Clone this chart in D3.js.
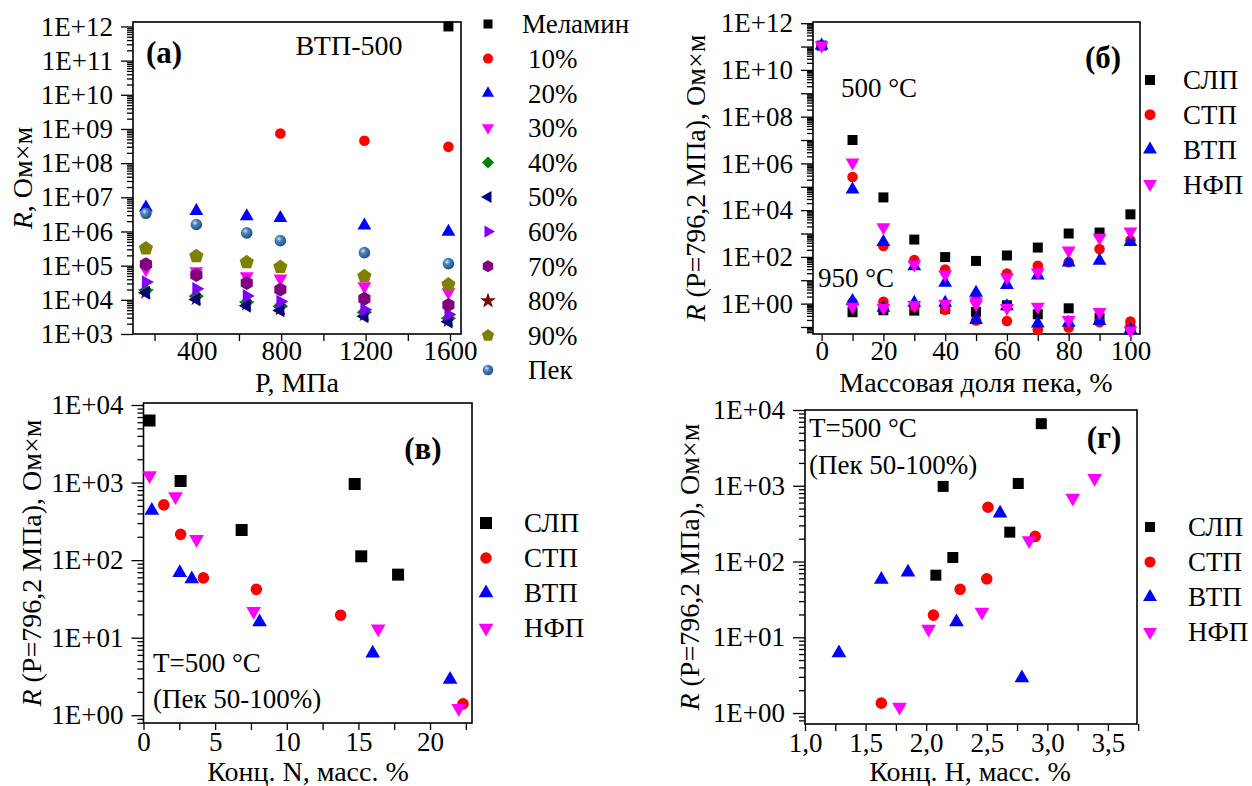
<!DOCTYPE html>
<html><head><meta charset="utf-8">
<script src="https://cdn.jsdelivr.net/npm/d3@7"></script>
<style>
body{margin:0;background:#fff}
svg text{font-family:"Liberation Serif","Times New Roman",serif;fill:#000}
</style>
</head><body>
<svg id="c" width="1252" height="786"></svg>
<script>
// ---------- DATA ----------
// Panel (a): R vs P, BTP-500
const pressureP = [159.2, 398.1, 636.9, 796.2, 1194.3, 1592.4];
const aMelamine = [null, null, null, null, null, 1.0e12];
const a10 = [null, null, null, 7.4e8, 4.5e8, 3.0e8];
const a20 = [5.0e6, 4.0e6, 2.8e6, 2.5e6, 1.5e6, 9.8e5];
const a30 = [7.8e4, 6.9e4, 4.9e4, 4.2e4, 2.5e4, 1.66e4];
const a40 = [1.9e4, 1.3e4, 8.5e3, 6.7e3, 4.4e3, 2.9e3];
const a50 = [1.6e4, 1.03e4, 6.7e3, 4.9e3, 3.3e3, 2.3e3];
const a60 = [3.3e4, 2.1e4, 1.3e4, 8.9e3, 5.1e3, 3.7e3];
const a70 = [1.1e5, 5.3e4, 3.1e4, 2.0e4, 1.07e4, 7.1e3];
const a80 = [1.7e4, 1.1e4, 7.5e3, 5.5e3, 3.7e3, 2.5e3];
const a90 = [3.2e5, 1.9e5, 1.26e5, 9.1e4, 4.9e4, 2.8e4];
const aPek = [3.4e6, 1.6e6, 9.1e5, 5.4e5, 2.4e5, 1.15e5];
const aLegend = ["Меламин", "10%", "20%", "30%", "40%", "50%", "60%", "70%", "80%", "90%", "Пек"];
const aXTicks = [200, 400, 600, 800, 1000, 1200, 1400, 1600];
const aXLabels = [400, 800, 1200, 1600];

// Panel (б): R vs pitch fraction at 500 and 950 °C
const pitchFrac = [0, 10, 20, 30, 40, 50, 60, 70, 80, 90, 100];
const b500SLP = [1.1e11, 1.0e7, 3.5e4, 550, 98, 67, 115, 250, 1000, 1100, 6600];
const b500STP = [1.1e11, 2.6e5, 290, 73, 29, 1.4, 19.5, 42, 59, 215, 515];
const b500VTP = [1.1e11, 7.6e4, 430, 40, 7.8, 2.9, 6.3, 15.9, 57, 69, 435];
const b500NFP = [1.1e11, 1.1e6, 1870, 47, 17.6, 1.23, 13, 22, 186, 660, 1230];
const b950SLP = [null, 0.43, 0.52, 0.5, 0.6, 0.44, 0.85, 0.35, 0.63, 0.24, 0.08];
const b950STP = [null, 1.15, 1.2, 0.75, 0.55, 0.19, 0.18, 0.077, 0.095, 0.16, 0.17];
const b950VTP = [null, 1.3, 0.66, 1.1, 1.1, 0.2, 0.77, 0.14, 0.15, 0.18, 0.076];
const b950NFP = [null, 0.73, 0.66, 0.88, 0.98, 0.95, 0.65, 0.74, 0.2, 0.44, 0.07];
const seriesNames = ["СЛП", "СТП", "ВТП", "НФП"];

// Panel (в): R vs N content
const vN_SLP = [0.42, 2.59, 6.85, 14.74, 15.2, 17.77];
const vR_SLP = [6300, 1050, 245, 960, 112, 65];
const vN_STP = [1.42, 2.59, 4.18, 7.88, 13.76, 22.3];
const vR_STP = [515, 215, 59, 42, 19.5, 1.4];
const vN_VTP = [0.58, 2.53, 3.37, 8.1, 16.0, 21.4];
const vR_VTP = [435, 69, 57, 15.9, 6.3, 2.9];
const vN_NFP = [0.42, 2.23, 3.70, 7.69, 16.38, 22.0];
const vR_NFP = [1230, 660, 186, 22, 13, 1.23];

// Panel (г): R vs H content
const gH_SLP = [2.95, 2.14, 2.76, 2.69, 2.22, 2.08];
const gR_SLP = [6600, 980, 1070, 244, 113, 66];
const gH_STP = [2.51, 2.90, 2.50, 2.28, 2.06, 1.63];
const gR_STP = [520, 215, 59, 43, 19.6, 1.35];
const gH_VTP = [2.61, 1.63, 1.85, 2.25, 1.28, 2.79];
const gR_VTP = [435, 58, 72, 15.9, 6.2, 2.9];
const gH_NFP = [3.39, 3.21, 2.85, 2.46, 2.02, 1.78];
const gR_NFP = [1260, 690, 190, 21.5, 12.9, 1.2];

// ---------- DRAWING ----------
const SERIF = '"Liberation Serif", "Times New Roman", serif';
const svg = d3.select("#c");
const defs = svg.append("defs");
const grad = defs.append("radialGradient").attr("id", "sph").attr("cx", "38%").attr("cy", "35%").attr("r", "65%");
grad.append("stop").attr("offset", "0%").attr("stop-color", "#d8e8f7");
grad.append("stop").attr("offset", "35%").attr("stop-color", "#4f86c0");
grad.append("stop").attr("offset", "100%").attr("stop-color", "#1d4f86");

function poly(pts) { return "M" + pts.map(p => p[0].toFixed(2) + "," + p[1].toFixed(2)).join("L") + "Z"; }
function ngon(n, r, start) {
  const a = [];
  for (let i = 0; i < n; i++) { const t = start + i * 2 * Math.PI / n; a.push([r * Math.cos(t), r * Math.sin(t)]); }
  return poly(a);
}
function shape(type, s) {
  const k = 0.866;
  switch (type) {
    case "square": return poly([[-s, -s], [s, -s], [s, s], [-s, s]]);
    case "circle": case "sphere": { const p = d3.path(); p.arc(0, 0, s, 0, 2 * Math.PI); return p.toString(); }
    case "up": return poly([[0, -s], [s * k, s / 2], [-s * k, s / 2]]);
    case "down": return poly([[0, s], [s * k, -s / 2], [-s * k, -s / 2]]);
    case "left": return poly([[-s, 0], [s / 2, -s * k], [s / 2, s * k]]);
    case "right": return poly([[s, 0], [-s / 2, -s * k], [-s / 2, s * k]]);
    case "diamond": return poly([[0, -s], [s, 0], [0, s], [-s, 0]]);
    case "pentagon": return ngon(5, s, -Math.PI / 2);
    case "hexagon": return ngon(6, s, -Math.PI / 2);
    case "star": return d3.symbol(d3.symbolStar, s * s * 1.6)();
  }
}
function fillOf(st) { return st.type === "sphere" ? "url(#sph)" : st.color; }

const fmtExp = v => { const e = Math.round(Math.log10(v)); return "1E" + (e < 0 ? "-" : "+") + String(Math.abs(e)).padStart(2, "0"); };

function txt(sel, size) {
  return sel.style("font-family", SERIF).style("fill", "#000").attr("font-size", size);
}

function panel(cfg) {
  const g = svg.append("g");
  const x = d3.scaleLinear().domain(cfg.xDomain).range([cfg.left, cfg.right]);
  const y = d3.scaleLog().domain(cfg.yDomain).range([cfg.bottom, cfg.top]);
  // y axis
  const e0 = Math.ceil(Math.log10(cfg.yDomain[0]) - 1e-9), e1 = Math.floor(Math.log10(cfg.yDomain[1]) + 1e-9);
  const majors = [], minors = [];
  for (let e = e0 - 1; e <= e1; e++) {
    const b = Math.pow(10, e);
    if (e >= e0) majors.push(b);
    for (let m = 2; m <= 9; m++) { const v = m * b; if (v >= cfg.yDomain[0] && v <= cfg.yDomain[1]) minors.push(v); }
  }
  const yMin = g.append("g").attr("transform", `translate(${cfg.left},0)`)
    .call(d3.axisLeft(y).tickValues(minors).tickSize(6).tickFormat(""));
  const yMaj = g.append("g").attr("transform", `translate(${cfg.left},0)`)
    .call(d3.axisLeft(y).tickValues(majors).tickSize(12).tickPadding(8)
      .tickFormat(v => cfg.yLabelEvery2 && (Math.round(Math.log10(v)) % 2 !== 0) ? "" : fmtExp(v)));
  // x axis
  const xAx = g.append("g").attr("transform", `translate(0,${cfg.bottom})`)
    .call(d3.axisBottom(x).tickValues(cfg.xTicks).tickSize(7).tickPadding(cfg.xPad)
      .tickFormat(v => cfg.xLabels.some(l => Math.abs(l - v) < 1e-9) ? cfg.xFmt(v) : ""));
  [yMin, yMaj, xAx].forEach(a => {
    a.select(".domain").remove();
    a.attr("font-family", null).attr("font-size", null);
    a.selectAll("line").attr("stroke", "#000").attr("stroke-width", 1.3);
    txt(a.selectAll("text"), 27);
  });
  // frame
  g.append("rect").attr("x", cfg.left).attr("y", cfg.top)
    .attr("width", cfg.right - cfg.left).attr("height", cfg.bottom - cfg.top)
    .attr("fill", "none").attr("stroke", "#000").attr("stroke-width", 1.6);
  // points
  const clip = "clip" + cfg.id;
  defs.append("clipPath").attr("id", clip).append("rect")
    .attr("x", cfg.left - 8).attr("y", cfg.top - 8).attr("width", cfg.right - cfg.left + 16).attr("height", cfg.bottom - cfg.top + 16);
  const pg = g.append("g").attr("clip-path", `url(#${clip})`);
  cfg.series.forEach(st => {
    const pts = st.xs.map((xv, i) => [xv, st.ys[i]]).filter(p => p[1] != null);
    pg.selectAll(null).data(pts).enter().append("path")
      .attr("d", shape(st.type, st.size))
      .attr("transform", d => `translate(${x(d[0])},${y(d[1])})`)
      .attr("fill", fillOf(st)).attr("stroke", "none");
  });
  // legend
  cfg.legend.items.forEach((it, i) => {
    const yy = cfg.legend.y0 + i * cfg.legend.dy;
    g.append("path").attr("d", shape(it.type, it.lsize))
      .attr("transform", `translate(${cfg.legend.mx},${yy})`).attr("fill", fillOf(it));
    txt(g.append("text").attr("x", it.tx || cfg.legend.tx).attr("y", yy).attr("dy", "0.35em"), 27).text(it.name);
  });
  // axis titles
  const yl = txt(g.append("text").attr("transform", `translate(${cfg.yTitle.x},${cfg.yTitle.y}) rotate(-90)`)
    .attr("text-anchor", "middle").attr("dy", "0.35em"), 28);
  yl.append("tspan").attr("font-style", "italic").text("R");
  yl.append("tspan").text(cfg.yTitle.text);
  txt(g.append("text").attr("x", cfg.xTitle.x).attr("y", cfg.xTitle.y).attr("dy", "0.35em")
    .attr("text-anchor", "middle"), 28).text(cfg.xTitle.text);
  // notes
  cfg.notes.forEach(n => {
    txt(g.append("text").attr("x", n.x).attr("y", n.y).attr("dy", "0.35em")
      .attr("text-anchor", n.anchor || "start")
      .attr("font-weight", n.bold ? "bold" : null), n.size || 27).text(n.text);
  });
}

const colors = { SLP: "#000000", STP: "#ff0000", VTP: "#0000ff", NFP: "#ff00ff" };

// ----- Panel (a) -----
const aStyles = [
  { ys: aMelamine, type: "square", color: "#000000", size: 5, lsize: 4.5 },
  { ys: a10, type: "circle", color: "#ff0000", size: 5.3, lsize: 5 },
  { ys: a20, type: "up", color: "#0000ff", size: 8, lsize: 7 },
  { ys: a30, type: "down", color: "#ff00ff", size: 8, lsize: 7 },
  { ys: a80, type: "star", color: "#800000", size: 7, lsize: 7 },
  { ys: a40, type: "diamond", color: "#008000", size: 7, lsize: 6 },
  { ys: a50, type: "left", color: "#000080", size: 8, lsize: 7 },
  { ys: a60, type: "right", color: "#8000ff", size: 8, lsize: 7 },
  { ys: a70, type: "hexagon", color: "#800080", size: 7, lsize: 6 },
  { ys: a90, type: "pentagon", color: "#808000", size: 7.5, lsize: 6.5 },
  { ys: aPek, type: "sphere", color: "#3a72b0", size: 5.8, lsize: 5.3 }
];
aStyles.forEach(s => s.xs = pressureP);
const aLegOrder = ["square", "circle", "up", "down", "diamond", "left", "right", "hexagon", "star", "pentagon", "sphere"];
panel({
  id: "a", left: 133, right: 461, top: 22, bottom: 334, xPad: 0,
  xDomain: [98, 1652], yDomain: [1e3, Math.pow(10, 12.13)],
  xTicks: aXTicks, xLabels: aXLabels, xFmt: v => String(v),
  series: aStyles,
  legend: {
    mx: 488, tx: 528, y0: 24, dy: 34.6,
    items: aLegOrder.map((t, i) => { const s = aStyles.find(z => z.type === t); return Object.assign({}, s, { name: aLegend[i], tx: i === 0 ? 522 : 528 }); })
  },
  yTitle: { x: 22, y: 178, text: ", Ом×м" },
  xTitle: { x: 297, y: 382, text: "P, МПа" },
  notes: [
    { x: 164, y: 52, text: "(a)", anchor: "middle", bold: true, size: 31 },
    { x: 349, y: 45, text: "ВТП-500", anchor: "middle", size: 28 }
  ]
});

// ----- Panel (б) -----
const bSeries = [
  { xs: pitchFrac, ys: b500SLP, type: "square", color: colors.SLP, size: 5 },
  { xs: pitchFrac, ys: b950SLP, type: "square", color: colors.SLP, size: 5 },
  { xs: pitchFrac, ys: b500STP, type: "circle", color: colors.STP, size: 5.3 },
  { xs: pitchFrac, ys: b950STP, type: "circle", color: colors.STP, size: 5.3 },
  { xs: pitchFrac, ys: b500VTP, type: "up", color: colors.VTP, size: 8 },
  { xs: pitchFrac, ys: b950VTP, type: "up", color: colors.VTP, size: 8 },
  { xs: pitchFrac, ys: b500NFP, type: "down", color: colors.NFP, size: 8 },
  { xs: pitchFrac, ys: b950NFP, type: "down", color: colors.NFP, size: 8 }
];
const legItems = [
  { type: "square", color: colors.SLP, lsize: 5 },
  { type: "circle", color: colors.STP, lsize: 5.5 },
  { type: "up", color: colors.VTP, lsize: 8 },
  { type: "down", color: colors.NFP, lsize: 8 }
].map((o, i) => Object.assign(o, { name: seriesNames[i] }));
panel({
  id: "b", left: 813, right: 1140, top: 22, bottom: 334, xPad: 0,
  xDomain: [-2.8, 103.1], yDomain: [Math.pow(10, -1.3), Math.pow(10, 12.05)], yLabelEvery2: true,
  xTicks: d3.range(0, 101, 10), xLabels: d3.range(0, 101, 20), xFmt: v => String(v),
  series: bSeries,
  legend: { mx: 1150, tx: 1183, y0: 80, dy: 34.7, items: legItems },
  yTitle: { x: 695, y: 178, text: " (P=796,2 МПа), Ом×м" },
  xTitle: { x: 976, y: 382, text: "Массовая доля пека, %" },
  notes: [
    { x: 1103, y: 57, text: "(б)", anchor: "middle", bold: true, size: 31 },
    { x: 841, y: 88, text: "500 °C" },
    { x: 818, y: 278, text: "950 °C" }
  ]
});

// ----- Panel (в) -----
const vSeries = [
  { xs: vN_SLP, ys: vR_SLP, type: "square", color: colors.SLP, size: 6 },
  { xs: vN_STP, ys: vR_STP, type: "circle", color: colors.STP, size: 5.8 },
  { xs: vN_VTP, ys: vR_VTP, type: "up", color: colors.VTP, size: 8.5 },
  { xs: vN_NFP, ys: vR_NFP, type: "down", color: colors.NFP, size: 8.5 }
];
panel({
  id: "v", left: 143.5, right: 472, top: 403, bottom: 723, xPad: 2,
  xDomain: [0, 22.93], yDomain: [Math.pow(10, -0.1), Math.pow(10, 4.026)],
  xTicks: d3.range(0, 22.6, 2.5), xLabels: [0, 5, 10, 15, 20], xFmt: v => String(v),
  series: vSeries,
  legend: { mx: 486, tx: 524, y0: 523, dy: 35, items: legItems.map(o => Object.assign({}, o, { lsize: o.type === "square" ? 6 : o.type === "circle" ? 5.8 : 8.5 })) },
  yTitle: { x: 31, y: 563, text: " (P=796,2 МПа), Ом×м" },
  xTitle: { x: 308, y: 771, text: "Конц. N, масс. %" },
  notes: [
    { x: 423, y: 448, text: "(в)", anchor: "middle", bold: true, size: 31 },
    { x: 153, y: 663, text: "T=500 °C" },
    { x: 153, y: 699, text: "(Пек 50-100%)" }
  ]
});

// ----- Panel (г) -----
const gSeries = [
  { xs: gH_SLP, ys: gR_SLP, type: "square", color: colors.SLP, size: 5.5 },
  { xs: gH_STP, ys: gR_STP, type: "circle", color: colors.STP, size: 5.8 },
  { xs: gH_VTP, ys: gR_VTP, type: "up", color: colors.VTP, size: 8.5 },
  { xs: gH_NFP, ys: gR_NFP, type: "down", color: colors.NFP, size: 8.5 }
];
panel({
  id: "g", left: 805, right: 1137, top: 410, bottom: 724, xPad: 2,
  xDomain: [1.0, 3.74], yDomain: [Math.pow(10, -0.145), 1e4],
  xTicks: d3.range(1.0, 3.751, 0.25), xLabels: [1.0, 1.5, 2.0, 2.5, 3.0, 3.5], xFmt: v => v.toFixed(1).replace(".", ","),
  series: gSeries,
  legend: { mx: 1150, tx: 1188, y0: 527, dy: 35, items: legItems },
  yTitle: { x: 689, y: 567, text: " (P=796,2 МПа), Ом×м" },
  xTitle: { x: 970, y: 771, text: "Конц. Н, масс. %" },
  notes: [
    { x: 1104, y: 437, text: "(г)", anchor: "middle", bold: true, size: 31 },
    { x: 809, y: 428, text: "T=500 °C" },
    { x: 809, y: 465, text: "(Пек 50-100%)" }
  ]
});
</script>
</body></html>
